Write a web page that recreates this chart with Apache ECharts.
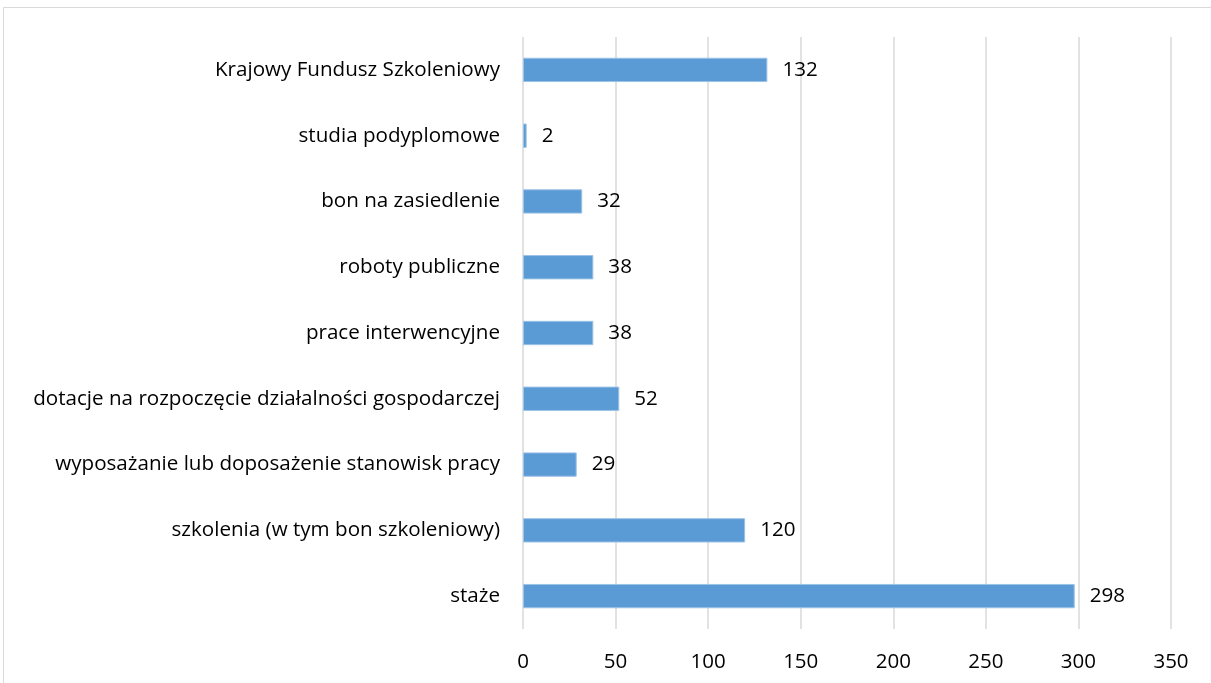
<!DOCTYPE html>
<html><head><meta charset="utf-8">
<script src="https://cdn.jsdelivr.net/npm/echarts@6/dist/echarts.min.js"></script>
<style>html,body{margin:0;padding:0;background:#fff}#c{width:1211px;height:683px}</style>
</head><body><div id="c"></div>
<script>
const categories = ["staże","szkolenia (w tym bon szkoleniowy)","wyposażanie lub doposażenie stanowisk pracy","dotacje na rozpoczęcie działalności gospodarczej","prace interwencyjne","roboty publiczne","bon na zasiedlenie","studia podyplomowe","Krajowy Fundusz Szkoleniowy"];
const values = [298,120,29,52,38,38,32,2,132];
const FONT = "Open Sans";
const chart = echarts.init(document.getElementById('c'));
chart.setOption({
  animation:false,
  graphic:[{type:'rect',shape:{x:3.5,y:7.5,width:1300,height:800},style:{fill:'none',stroke:'#D9D9D9',lineWidth:1},silent:true}],
  grid:{left:523,right:40,top:37,bottom:54,containLabel:false},
  xAxis:{type:'value',min:0,max:350,interval:50,
    axisLine:{show:false},axisTick:{show:false},
    axisLabel:{color:'#000',fontFamily:FONT,fontSize:20.5,margin:23},
    splitLine:{lineStyle:{color:'#D9D9D9',width:1.5}}},
  yAxis:{type:'category',data:categories,
    axisLine:{show:false},axisTick:{show:false},
    axisLabel:{color:'#000',fontFamily:FONT,fontSize:20.6,margin:23}},
  series:[{type:'bar',data:values,barWidth:'37%',
    itemStyle:{color:'#5B9BD5',borderColor:'#9DC3E6',borderWidth:1},
    label:{show:true,position:'right',distance:15,color:'#000',fontFamily:FONT,fontSize:20.6}}]
});
</script></body></html>
